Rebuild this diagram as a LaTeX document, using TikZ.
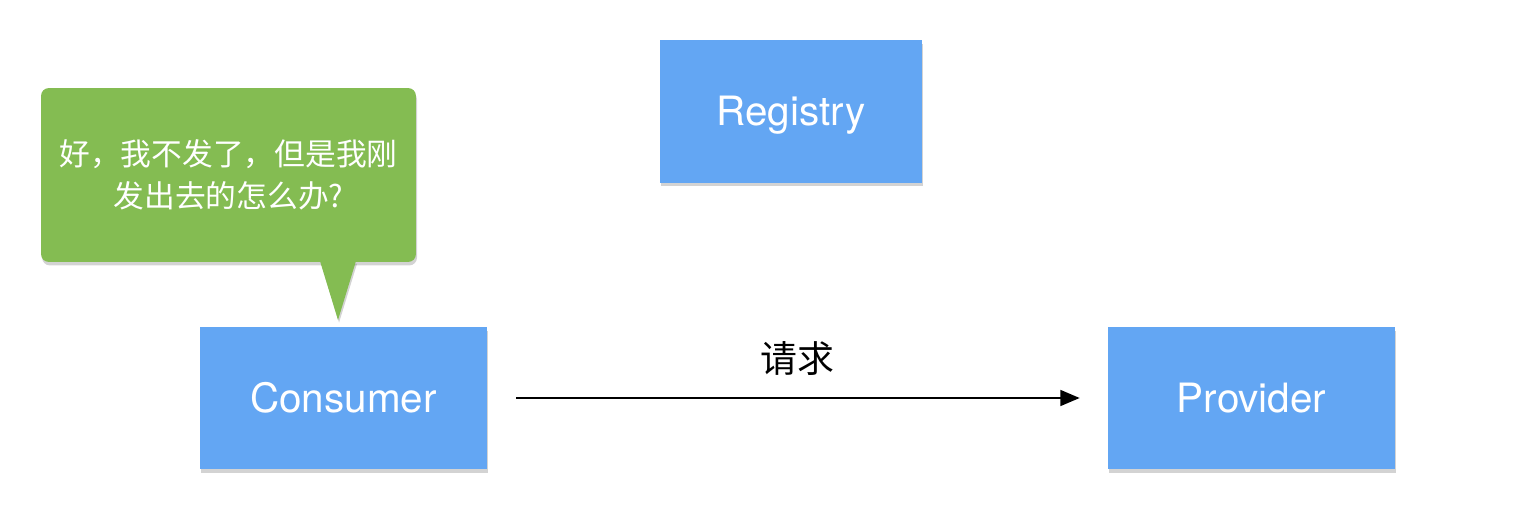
\documentclass[tikz,border=0pt]{standalone}
\usepackage{fontspec}
\setmainfont{TeX Gyre Heros}
\newfontfamily\cjk{Noto Sans CJK SC}
\usepackage{tikz}
\usetikzlibrary{shadows}
\usetikzlibrary{arrows.meta}
\usepackage{xcolor}
\definecolor{boxblue}{RGB}{99,166,243}
\definecolor{tipgreen}{RGB}{132,188,82}

\begin{document}
\begin{tikzpicture}[x=0.02cm, y=-0.02cm]
        % ================= 样式定义 =================
        \tikzset{
            sbox/.style={rectangle, fill=boxblue, text=white, inner sep=0pt,
                minimum width=5.74cm, minimum height=2.84cm,
                text height=16.5pt, text depth=0pt,
                font=\fontsize{23}{27}\selectfont,
                drop shadow={shadow xshift=0.6pt, shadow yshift=-2pt, opacity=0.35}},
            tipbox/.style={rectangle, rounded corners=4.5pt, fill=tipgreen, text=white,
                inner sep=0pt, minimum width=7.5cm, minimum height=3.48cm, align=center,
                font=\cjk\fontsize{17.5}{23.8}\selectfont,
                drop shadow={shadow xshift=0.6pt, shadow yshift=-2pt, opacity=0.35}},
            link/.style={line width=1.2pt, black, -{Triangle[length=11pt, width=9pt]},
                shorten <=0.58cm, shorten >=0.56cm}
        }
        \useasboundingbox (0,0) rectangle (1520,530);

        % ================= 三个服务 =================
        \node[sbox, minimum width=5.24cm, minimum height=2.86cm] (registry) at (791,111.5) {Registry};
        \node[sbox] (consumer) at (343.5,398) {Consumer};
        \node[sbox] (provider) at (1251.5,398) {Provider};

        % ================= 气泡 =================
        \node[tipbox] (bubble) at (228.5,175) {好，我不发了，但是我刚\\发出去的怎么办?};
        % 尖角画在气泡之后,盖住气泡底边的阴影
        \fill[tipgreen, drop shadow={shadow xshift=0.6pt, shadow yshift=-1.5pt, opacity=0.35}]
            (320,261) -- (338,320) -- (356,261) -- cycle;

        % ================= 请求 =================
        \draw[link] (consumer) -- node[midway, yshift=0.78cm, font=\cjk\fontsize{21}{24}\selectfont] (req) {请求} (provider);

    \end{tikzpicture}
\end{document}
